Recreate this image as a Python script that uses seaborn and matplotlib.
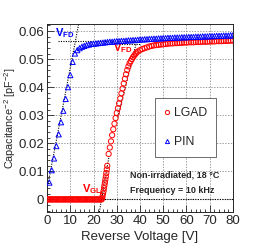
import matplotlib
matplotlib.use("Agg")
import matplotlib.pyplot as plt
import seaborn as sns
import pandas as pd
from matplotlib.lines import Line2D
from matplotlib.ticker import MultipleLocator, FuncFormatter

# LGAD: C^-2 vs reverse voltage
lgad_v = [0.0, 0.5, 1.0, 1.5, 2.0, 2.5, 3.0, 3.5, 4.0, 4.5, 5.0, 5.5, 6.0, 6.5, 7.0, 7.5,
          8.0, 8.5, 9.0, 9.5, 10.0, 10.5, 11.0, 11.5, 12.0, 12.5, 13.0, 13.5, 14.0, 14.5,
          15.0, 15.5, 16.0, 16.5, 17.0, 17.5, 18.0, 18.5, 19.0, 19.5, 20.0, 20.5, 21.0,
          21.5, 22.0, 22.5, 23.0, 23.5,
          23.7, 23.9, 24.1, 24.3, 24.5, 24.7, 24.9, 25.1, 25.3, 25.5, 25.7, 25.9,
          26.5, 27.0, 27.5, 28.0, 28.5, 29.0, 29.5, 30.0, 30.5, 31.0, 31.5, 32.0, 32.5,
          33.0, 33.5, 34.0, 34.5, 35.0, 35.5, 36.0, 36.5, 37.0, 37.5, 38.0, 38.5, 39.0,
          40, 41, 42, 43, 44, 45, 46, 47, 48, 49, 50, 51, 52, 53, 54, 55, 56, 57, 58, 59,
          60, 61, 62, 63, 64, 65, 66, 67, 68, 69, 70, 71, 72, 73, 74, 75, 76, 77, 78, 79, 80]
lgad_c = [0.0, 0.0, 0.0, 0.0, 0.0, 0.0, 0.0, 0.0, 0.0, 0.0, 0.0, 0.0, 0.0, 0.0, 0.0, 0.0,
          0.0, 0.0, 0.0, 0.0, 0.0, 0.0, 0.0, 0.0, 0.0, 0.0, 0.0, 0.0, 0.0, 0.0,
          0.0, 0.0, 0.0, 0.0, 0.0, 0.0, 0.0, 0.0, 0.0, 0.0, 0.0, 0.0, 0.0,
          0.0, 0.0, 0.0, 0.0, 0.0,
          0.0004, 0.0012, 0.0021, 0.0030, 0.0040, 0.0050, 0.0060, 0.0071, 0.0082, 0.0094,
          0.0107, 0.0120,
          0.0162, 0.0185, 0.0207, 0.0229, 0.0250, 0.0270, 0.0290, 0.0308, 0.0325, 0.0342,
          0.0360, 0.0378, 0.0395, 0.0413, 0.0430, 0.0446, 0.0461, 0.0474, 0.0485, 0.0493,
          0.0500, 0.0507, 0.0513, 0.0518, 0.0523, 0.0527,
          0.0532, 0.0536, 0.0539, 0.0542, 0.0545, 0.0547, 0.0549, 0.0550, 0.0551, 0.0552,
          0.0553, 0.0554, 0.0555, 0.0556, 0.0556, 0.0557, 0.0557, 0.0558, 0.0558, 0.0559,
          0.0559, 0.0560, 0.0560, 0.0560, 0.0561, 0.0561, 0.0561, 0.0562, 0.0562, 0.0562,
          0.0563, 0.0563, 0.0563, 0.0564, 0.0564, 0.0564, 0.0565, 0.0565, 0.0565, 0.0566, 0.0566]

# PIN: C^-2 vs reverse voltage
pin_v = [1, 2, 3, 4, 5, 6, 7, 8, 9, 10, 11, 12, 13, 14, 15, 16, 17, 18, 19, 20,
         21, 22, 23, 24, 25, 26, 27, 28, 29, 30, 31, 32, 33, 34, 35, 36, 37, 38, 39, 40,
         41, 42, 43, 44, 45, 46, 47, 48, 49, 50, 51, 52, 53, 54, 55, 56, 57, 58, 59, 60,
         61, 62, 63, 64, 65, 66, 67, 68, 69, 70, 71, 72, 73, 74, 75, 76, 77, 78, 79, 80]
pin_c = [0.0060, 0.0104, 0.0146, 0.0190, 0.0232, 0.0275, 0.0316, 0.0358, 0.0400, 0.0443,
         0.0490, 0.0520, 0.0532, 0.0539, 0.0544, 0.0547, 0.0550, 0.0552, 0.0554, 0.0555,
         0.0556, 0.0557, 0.0558, 0.0559, 0.0560, 0.0561, 0.0562, 0.0562, 0.0563, 0.0564,
         0.0564, 0.0565, 0.0565, 0.0566, 0.0567, 0.0567, 0.0568, 0.0568, 0.0569, 0.0570,
         0.0570, 0.0571, 0.0571, 0.0572, 0.0572, 0.0573, 0.0573, 0.0574, 0.0574, 0.0575,
         0.0575, 0.0576, 0.0576, 0.0576, 0.0577, 0.0577, 0.0577, 0.0578, 0.0578, 0.0578,
         0.0579, 0.0579, 0.0579, 0.0580, 0.0580, 0.0580, 0.0581, 0.0581, 0.0581, 0.0582,
         0.0582, 0.0582, 0.0583, 0.0583, 0.0583, 0.0584, 0.0584, 0.0584, 0.0585, 0.0585]

# fit lines (start/end points)
pin_rise_fit = ([0.4, 13.6], [0.0055, 0.0625])
pin_flat_fit = ([4.5, 40.0], [0.0564, 0.0564])
lgad_rise_fit = ([30.5, 38.5], [0.0295, 0.0562])
lgad_flat_fit = ([31.0, 40.0], [0.0554, 0.0554])
lgad_gl_fit = ([22.5, 26.6], [-0.0045, 0.0150])
lgad_base_fit = ([23.5, 80.0], [0.0, 0.0])

sns.set_style("ticks")
plt.rcParams["font.family"] = ["Liberation Sans", "DejaVu Sans"]
plt.rcParams["mathtext.fontset"] = "custom"
plt.rcParams["mathtext.rm"] = "Liberation Sans"
plt.rcParams["mathtext.bf"] = "Liberation Sans:bold"

fig = plt.figure(figsize=(2.6, 2.48), dpi=100)
ax = fig.add_axes([0.181, 0.145, 0.715, 0.758])

lgad = pd.DataFrame({"V": lgad_v, "C": lgad_c})
pin = pd.DataFrame({"V": pin_v, "C": pin_c})

for xs, ys in (pin_rise_fit, pin_flat_fit, lgad_rise_fit, lgad_flat_fit, lgad_gl_fit, lgad_base_fit):
    ax.plot(xs, ys, color="black", ls=(0, (1, 1.2)), lw=0.8, zorder=3)

sns.scatterplot(data=lgad, x="V", y="C", ax=ax, marker="o", s=14,
                fc="none", ec="#ff0000", linewidth=0.7, zorder=4)
sns.scatterplot(data=pin, x="V", y="C", ax=ax, marker="^", s=14,
                fc="none", ec="#0000ff", linewidth=0.7, zorder=4)

ax.set_xlim(0, 80)
ax.set_ylim(-0.0045, 0.0625)
ax.xaxis.set_major_locator(MultipleLocator(10))
ax.xaxis.set_minor_locator(MultipleLocator(2))
ax.yaxis.set_major_locator(MultipleLocator(0.01))
ax.yaxis.set_minor_locator(MultipleLocator(0.002))
ax.yaxis.set_major_formatter(FuncFormatter(lambda v, p: "0" if abs(v) < 1e-9 else f"{v:.2f}"))
ax.tick_params(which="both", direction="in", labelsize=9.5, pad=2)
ax.tick_params(which="major", length=5, width=0.6)
ax.tick_params(which="minor", length=2.5, width=0.6)
ax.grid(True, which="major", color="#777777", ls=(0, (2, 2)), lw=0.5)
for s in ax.spines.values():
    s.set_linewidth(0.7)

ax.set_xlabel("Reverse Voltage [V]", fontsize=9.5, labelpad=3)
ax.set_ylabel(r"Capacitance$^{-2}$ [pF$^{-2}$]", fontsize=7.8)
ax.yaxis.set_label_coords(-0.155, 0.5)

ax.text(3.4, 0.0593, r"$\mathbf{V_{FD}}$", color="#0000ff", fontsize=8, va="center")
ax.text(28.4, 0.0540, r"$\mathbf{V_{FD}}$", color="#ff0000", fontsize=8, va="center")
ax.text(15.0, 0.0036, r"$\mathbf{V_{GL}}$", color="#ff0000", fontsize=8, va="center")

ax.text(35.7, 0.0086, "Non-irradiated, 18 °C", fontsize=6.5, fontweight="bold", va="center")
ax.text(35.7, 0.0032, "Frequency = 10 kHz", fontsize=6.5, fontweight="bold", va="center")

handles = [
    Line2D([], [], ls="none", marker="o", ms=3, mfc="none", mec="#ff0000", mew=0.7),
    Line2D([], [], ls="none", marker="^", ms=3, mfc="none", mec="#0000ff", mew=0.7),
]
leg = ax.legend(handles, ["LGAD", "PIN"], loc="upper left", bbox_to_anchor=(0.582, 0.605),
                fontsize=8.8, frameon=True, fancybox=False, edgecolor="#555555",
                framealpha=1, borderpad=0.75, labelspacing=1.35, handlelength=0.4,
                handletextpad=0.35, borderaxespad=0)
leg.get_frame().set_linewidth(0.6)

fig.savefig("out.png", dpi=100)
